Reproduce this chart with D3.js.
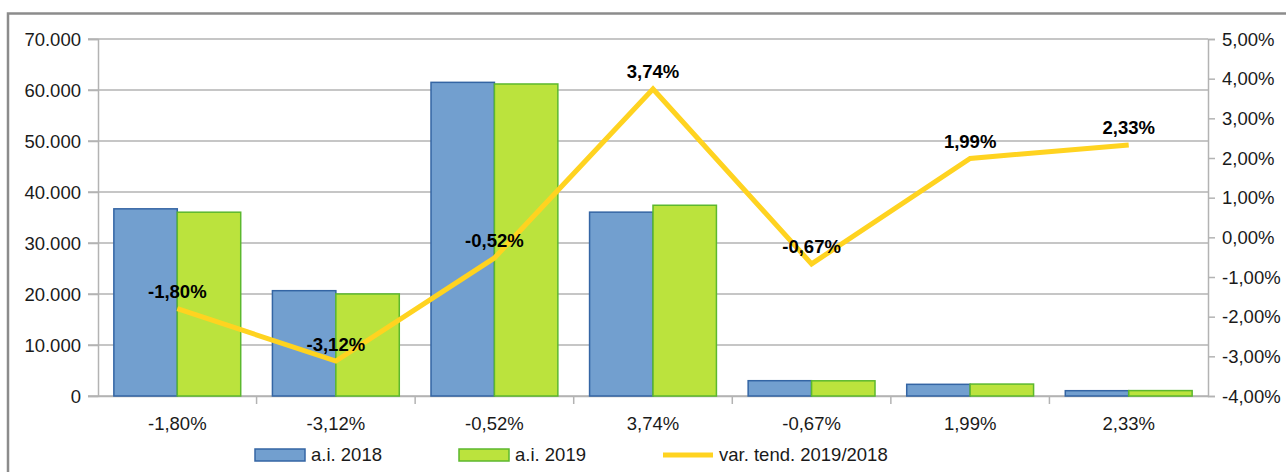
<!DOCTYPE html>
<html>
<head>
<meta charset="utf-8">
<script src="https://cdn.jsdelivr.net/npm/d3@7"></script>
<style>
  body { margin: 0; background: #fff; }
  text { font-family: "Liberation Sans", Arial, sans-serif; fill: #1a1a1a; }
</style>
</head>
<body>
<div id="container"></div>
<script>
const categories = ["-1,80%", "-3,12%", "-0,52%", "3,74%", "-0,67%", "1,99%", "2,33%"];
const values2018 = [36700, 20650, 61500, 36050, 3000, 2290, 1040];
const values2019 = [36040, 20010, 61180, 37400, 2980, 2340, 1060];
const variation = [-1.80, -3.12, -0.52, 3.74, -0.67, 1.99, 2.33];
const leftTicks = [0, 10000, 20000, 30000, 40000, 50000, 60000, 70000];
const rightTicks = [-4, -3, -2, -1, 0, 1, 2, 3, 4, 5];
const seriesNames = ["a.i. 2018", "a.i. 2019", "var. tend. 2019/2018"];

const width = 1286, height = 472;
const plot = { left: 98, right: 1208, top: 39, bottom: 396 };

const fmtThousands = d => d === 0 ? "0" : d3.format(",")(d).replace(/,/g, ".");
const fmtPct = d => d.toFixed(2).replace(".", ",") + "%";

const svg = d3.select("#container")
  .append("svg")
  .attr("width", width)
  .attr("height", height);

// outer frame
svg.append("path")
  .attr("d", `M8,${height} V13.5 H${width}`)
  .style("fill", "none")
  .style("stroke", "#8c8c8c")
  .style("stroke-width", 2.5);

const x = d3.scaleBand().domain(categories).range([plot.left, plot.right]);
const yLeft = d3.scaleLinear().domain([0, 70000]).range([plot.bottom, plot.top]);
const yRight = d3.scaleLinear().domain([-4, 5]).range([plot.bottom, plot.top]);

// gridlines
svg.append("g")
  .selectAll("line")
  .data(leftTicks)
  .enter()
  .append("line")
  .attr("x1", plot.left - 10)
  .attr("x2", plot.right)
  .attr("y1", d => yLeft(d))
  .attr("y2", d => yLeft(d))
  .style("stroke", "#b3b3b3")
  .style("stroke-width", 1.5);

// left axis
const gLeft = svg.append("g")
  .attr("transform", `translate(${plot.left},0)`)
  .call(d3.axisLeft(yLeft).tickValues(leftTicks).tickFormat(fmtThousands).tickSize(10).tickPadding(7));
gLeft.select(".domain").style("stroke", "#b3b3b3").style("stroke-width", 1.5);
gLeft.selectAll(".tick line").style("stroke", "#b3b3b3").style("stroke-width", 1.5);
gLeft.selectAll(".tick text").style("font-size", "18.5px").attr("dy", "0.34em");

// right axis
const gRight = svg.append("g")
  .attr("transform", `translate(${plot.right},0)`)
  .call(d3.axisRight(yRight).tickValues(rightTicks).tickFormat(fmtPct).tickSize(7).tickPadding(7));
gRight.select(".domain").style("stroke", "#b3b3b3").style("stroke-width", 1.5);
gRight.selectAll(".tick line").style("stroke", "#b3b3b3").style("stroke-width", 1.5);
gRight.selectAll(".tick text").style("font-size", "18.5px").attr("dy", "0.34em");

// bottom axis
const gBottom = svg.append("g")
  .attr("transform", `translate(0,${plot.bottom})`)
  .call(d3.axisBottom(x).tickSize(0).tickPadding(21));
gBottom.select(".domain").style("stroke", "#b3b3b3").style("stroke-width", 1.5);
gBottom.selectAll(".tick text").style("font-size", "18.5px");
gBottom.append("g")
  .selectAll("line")
  .data(categories.slice(1))
  .enter()
  .append("line")
  .attr("x1", d => x(d))
  .attr("x2", d => x(d))
  .attr("y1", 0)
  .attr("y2", 8)
  .style("stroke", "#b3b3b3")
  .style("stroke-width", 1.5);
svg.selectAll(".domain").style("fill", "none");

// bars
const barW = x.bandwidth() * 0.4;
const barOff = x.bandwidth() * 0.1;
const series = [
  { values: values2018, fill: "#729fcf", stroke: "#3465a4" },
  { values: values2019, fill: "#bbe33d", stroke: "#5cb82e" },
];
series.forEach(function (s, si) {
  svg.append("g")
    .selectAll("rect")
    .data(s.values)
    .enter()
    .append("rect")
    .attr("x", (d, i) => x(categories[i]) + barOff + si * barW)
    .attr("y", d => yLeft(d))
    .attr("width", barW)
    .attr("height", d => yLeft(0) - yLeft(d))
    .style("fill", s.fill)
    .style("stroke", s.stroke)
    .style("stroke-width", 1.5);
});

// line
const cx = i => x(categories[i]) + x.bandwidth() / 2;
const line = d3.line()
  .x((d, i) => cx(i))
  .y(d => yRight(d));
svg.append("path")
  .datum(variation)
  .attr("d", line)
  .style("fill", "none")
  .style("stroke", "#ffd320")
  .style("stroke-width", 5);

svg.append("g")
  .selectAll("text")
  .data(variation)
  .enter()
  .append("text")
  .attr("x", (d, i) => cx(i))
  .attr("y", d => yRight(d) - 10.5)
  .attr("text-anchor", "middle")
  .style("font-size", "18.5px")
  .style("font-weight", "bold")
  .style("fill", "#000")
  .text(d => fmtPct(d));

// legend
const legend = [
  { x: 255, type: "rect", fill: "#729fcf", stroke: "#3465a4" },
  { x: 459, type: "rect", fill: "#bbe33d", stroke: "#5cb82e" },
  { x: 663, type: "line", stroke: "#ffd320" },
];
legend.forEach(function (l, i) {
  const g = svg.append("g");
  if (l.type === "rect") {
    g.append("rect")
      .attr("x", l.x).attr("y", 449).attr("width", 50).attr("height", 12)
      .style("fill", l.fill).style("stroke", l.stroke).style("stroke-width", 1.5);
  } else {
    g.append("line")
      .attr("x1", l.x).attr("x2", l.x + 50).attr("y1", 455).attr("y2", 455)
      .style("stroke", l.stroke).style("stroke-width", 5);
  }
  g.append("text")
    .attr("x", l.x + 56)
    .attr("y", 461)
    .style("font-size", "18.5px")
    .text(seriesNames[i]);
});
</script>
</body>
</html>
